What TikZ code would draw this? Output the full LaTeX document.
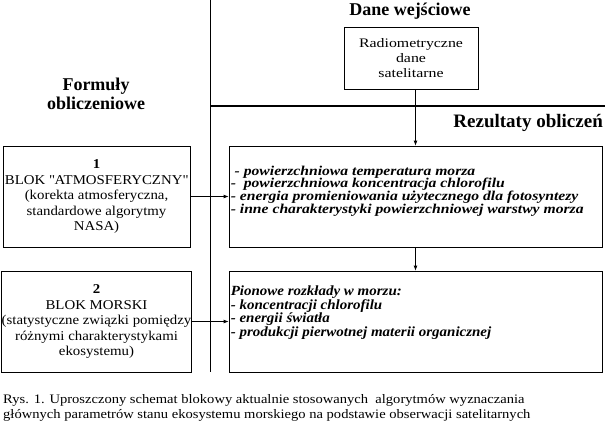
\documentclass[tikz,border=0pt]{standalone}
\usepackage{fontspec}
\setmainfont{Liberation Serif}
\newfontfamily\fontblok[FakeStretch=1.1]{Liberation Serif}
\newfontfamily\fontradio[FakeStretch=1.22]{Liberation Serif}
\newfontfamily\fontwynikA[FakeStretch=1.16]{Liberation Serif}
\newfontfamily\fontwynikB[FakeStretch=1.07]{Liberation Serif}
\newfontfamily\fontpodpis[FakeStretch=1.12]{Liberation Serif}
\usetikzlibrary{arrows.meta}

\begin{document}
\begin{tikzpicture}[x=1pt,y=-1pt,
  blok/.style={draw,line width=0.8pt,minimum width=187pt,minimum height=101pt,inner sep=0pt,align=center,font=\fontblok\fontsize{13.5}{15.5}\selectfont},
  wynik/.style={draw,line width=0.8pt,minimum width=373pt,minimum height=101pt,inner sep=0pt},
  lista/.style={anchor=north west,inner sep=0pt,align=left},
  tytul/.style={font=\fontsize{18}{19}\selectfont\bfseries,align=center,inner sep=0pt},
  strz/.style={-{Latex[length=5pt,width=4pt]},line width=0.8pt}]
\useasboundingbox (0,0) rectangle (605,424);
% podzial pola
\coordinate (G) at (210,0);
\coordinate (D) at (210,372);
\coordinate (L) at (210,106);
\coordinate (P) at (605,106);
\draw[line width=0.8pt] (G)--(D);
\draw[line width=1.8pt] (L)--(P);
% naglowki
\node[tytul] (dane) at (410,11) {Dane wejściowe};
\node[tytul] (formuly) at (96,94) {Formuły\\obliczeniowe};
\node[tytul,anchor=east,font=\fontsize{19}{19}\selectfont\bfseries] (rezultaty) at (603,123) {Rezultaty obliczeń};
% dane wejsciowe
\node[draw,line width=0.8pt,minimum width=134pt,minimum height=62pt,inner sep=0pt,align=center,font=\fontradio\fontsize{13}{15}\selectfont] (radio) at (411,58) {Radiometryczne\\dane\\satelitarne};
% bloki
\node[blok] (B1) at (96.5,196.5) {\textbf{1}\\BLOK \textquotedbl ATMOSFERYCZNY\textquotedbl\\(korekta atmosferyczna,\\standardowe algorytmy\\NASA)};
\node[blok] (B2) at (96.5,321.5) {\textbf{2}\\BLOK MORSKI\\(statystyczne związki pomiędzy\\różnymi charakterystykami\\ekosystemu)};
% wyniki
\node[wynik] (W1) at (415.5,196.5) {};
\node[wynik] (W2) at (415.5,321.5) {};
\node[lista,font=\fontwynikA\fontsize{13.5}{12.7}\selectfont\bfseries\itshape] (T1) at ([xshift=2pt,yshift=-20pt]W1.north west) {\ - powierzchniowa temperatura morza\\-\ \ powierzchniowa koncentracja chlorofilu\\- energia promieniowania użytecznego dla fotosyntezy\\- inne charakterystyki powierzchniowej warstwy morza};
\node[lista,font=\fontwynikB\fontsize{14}{13.5}\selectfont\bfseries\itshape] (T2) at ([xshift=2pt,yshift=-15pt]W2.north west) {Pionowe rozkłady w morzu:\\- koncentracji chlorofilu\\- energii światła\\- produkcji pierwotnej materii organicznej};
% strzalki
\draw[strz] (W1.north |- radio.south)--(W1.north);
\draw[strz] (B1.east)--(W1.west);
\draw[strz] (W1.south)--(W2.north);
\draw[strz] (B2.east)--(W2.west);
% podpis
\node[anchor=north west,inner sep=0pt,align=left,font=\fontpodpis\fontsize{13}{15}\selectfont] (podpis) at (3,394) {Rys. 1. Uproszczony schemat blokowy aktualnie stosowanych\ \ algorytmów wyznaczania\\głównych parametrów stanu ekosystemu morskiego na podstawie obserwacji satelitarnych};
\end{tikzpicture}
\end{document}
